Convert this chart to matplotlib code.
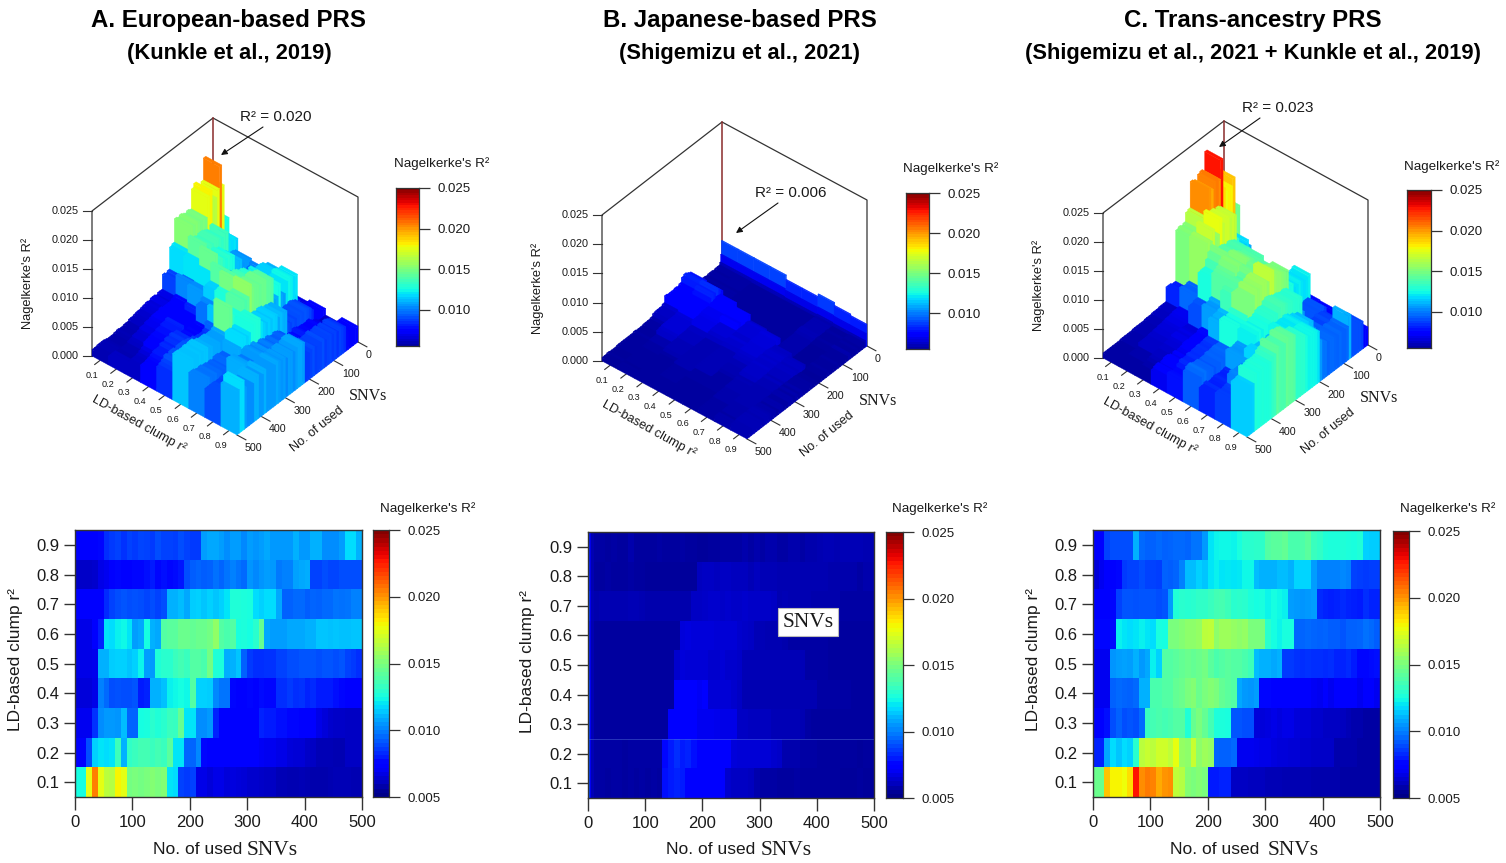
#!/usr/bin/env python3

import matplotlib

matplotlib.use("Agg")
import matplotlib.pyplot as plt
import numpy as np
from matplotlib.collections import PolyCollection
from matplotlib.colors import Normalize

plt.rcParams["font.family"] = ["Liberation Sans", "DejaVu Sans"]

WIDTH, HEIGHT = 1506, 863

# Values are R2 x 1000 in 10 SNV bins.
snv_edges = list(range(0, 501, 10))
# The Japanese PRS has a very thin bright strip at the start, so it gets finer bins there.
snv_edges_b = [0, 3, 6] + list(range(10, 501, 10))
r2_levels = [0.1, 0.2, 0.3, 0.4, 0.5, 0.6, 0.7, 0.8, 0.9]
snv_ticks = [0, 100, 200, 300, 400, 500]
height_ticks = [0.000, 0.005, 0.010, 0.015, 0.020, 0.025]
bar_ticks = [0.010, 0.015, 0.020, 0.025]
heat_bar_ticks = [0.005, 0.010, 0.015, 0.020, 0.025]

a_r01 = [12.5,12.5,17.5,20.5,17.5, 16.5,16.4,18,17.5,14.8, 15,14.8,15,15.2,15, 15.2,12,11.8,8.8,8.6, 8.8,6.8,6.8,6.6,6.8, 6.8,6.6,6.7,6.6,6.5, 6.4,6.4,6.3,6.2,6.2, 6,6,5.9,5.9,6, 5.9,5.8,5.8,5.8,5.9, 6,6,6,5.9,5.9]
a_r02 = [7.2,7.2,9,11.6,12, 11.8,12,13.5,11,13.2, 13.4,13.6,13.6,13.4,13.6, 13.4,14.2,12,12,9.5, 9.5,10.2,7.6,7.4,7.2, 7.2,7.2,7.2,7.4,7.2, 7.2,7.2,7.1,7,7, 6.8,6.8,6.6,6.5,6.5, 6.3,6.2,6,6,6, 5.9,5.9,6.2,6.2,6.2]
a_r03 = [7,7,7,8.5,10.3, 10.5,10.5,10.4,11.2,9.5, 9.5,12.5,12.6,13,12.8, 13,13.4,13.3,14.5,12, 12,10.3,10.3,10.5,8.2, 7.4,7.4,7.3,7.4,7.4, 7.4,7.4,8.2,8,8, 7.8,7.8,7.6,7.6,7.5, 7.4,7.3,6.8,6.6,6.4, 6.3,6.3,6.2,6.2,6.2]
a_r04 = [6.6,6.6,6.6,6.8,10, 9.6,9,9.1,9,9, 9.2,8,8.2,11,11, 11.3,12.2,12.4,12.5,12.4, 14,11.6,11.6,11.5,10.2, 9.8,9.8,7.6,7.5,7.5, 7.6,7.5,7.7,7.6,7.6, 8.4,8.4,8.6,8.4,8.5, 8.2,8.3,8,8,8, 7.8,7.6,7.5,7.4,7.4]
a_r05 = [6.8,6.8,6.8,6.9,11, 11,11.5,11.6,11.6,11.4, 11.6,12.3,10.6,10.5,12.8, 13,13,13.4,13.6,13.4, 14,14,13.8,14.8,12.8, 12.7,10.9,11,11.4,9.4, 8.6,8.4,8.4,8.5,8.5, 8.8,8.8,9,9,9.2, 9.2,9.2,9,9.2,9.2, 9,9.2,8.8,8.6,8.4]
a_r06 = [6.8,6.8,6.8,7.2,8.2, 12,11.8,12.2,12.4,12, 10.6,10.8,12.5,11,10.8, 14,14.2,14.2,14.6,14.6, 14.4,14.6,14.6,14.8,15.5, 14,13.8,14,12.6,12.7, 12.5,13,14.5,10.8,10.6, 10.6,10.6,10.8,10.8,10.8, 11,11,11.4,11.4,11.3, 11.4,11.3,11.3,11.4,11.4]
a_r07 = [7.2,7.2,7.2,7.3,7.5, 8.3,8.8,9,9.2,9, 9.1,9,8.9,9,8.8, 9,11,11,11.2,10.8, 11.5,11.6,11.4,11.6,11.4, 11.6,12,12.8,12.8,12.7, 12.6,11.8,11.6,11.8,11.8, 10.8,9.4,9.4,9.6,9.6, 9.3,9.5,9.4,9.6,9.6, 9.8,9.7,9.8,10,10]
a_r08 = [6.3,6.3,6.3,6.4,6.8, 7,7.2,7.6,7.5,7.5, 7.6,7.6,7.8,8,7.6, 7.8,7.6,7.7,7.9,9, 9.3,9.5,9.3,9.4,9.7, 9.5,9.8,10,9.8,9.6, 10.4,10.2,10.4,10.6,10.5, 9.9,10,10,10.7,10.8, 10.9,8.8,8.8,9,8.9, 8.9,9,9,9,9]
a_r09 = [7.2,7.2,7.2,7.2,7.6, 8.4,8.6,8.8,8.5,8.8, 8.6,8.9,8.8,8.6,9, 8.8,8.8,8.7,9,8.8, 8.6,8.6,10.6,10.8,10.8, 10.6,10.3,10.6,10.6,10.2, 10.6,10.4,10.6,10.8,10.5, 10.5,10.5,10.5,11,10.5, 10.5,11,11,10.3,10.3, 10.3,10.6,11.8,11.8,11]

b_r01 = [8.8,7.0,6.0, 5.7,5.7,5.6,5.7, 5.7,5.6,5.7,5.6,5.7, 5.6,5.7,5.6,7.8,8, 8.2,8,7.4,7.2,7.3, 7.2,7.2,7.2,7.3,6.4, 6.2,6.2,6.2,6.1,5.8, 5.7,5.7,5.7,5.6,5.6, 5.6,5.7,5.6,5.6,5.6, 5.6,5.6,5.6,5.6,5.5, 5.5,5.5,5.6,5.5,5.5]
b_r02 = [8.8,7.0,6.0, 5.7,5.7,5.7,5.7, 5.7,5.6,5.7,5.7,5.7, 5.7,5.7,5.7,7.6,8, 8.4,8,8.2,7.8,7.4, 7.5,7.4,7.4,7.4,7.3, 6.6,6.5,6.5,6.5,6.5, 6.5,6.5,6.4,6.3,5.8, 5.8,5.8,5.7,5.7,5.7, 5.6,5.6,5.6,5.6,5.6, 5.6,5.6,5.5,5.6,5.6]
b_r03 = [8.8,7.0,6.0, 5.6,5.6,5.6,5.6, 5.6,5.6,5.6,5.6,5.6, 5.6,5.6,5.6,5.6,7.4, 7.5,7.3,7.2,7.2,7, 7,7,6.9,6.8,6.8, 6.8,6.2,6.2,6.1,6.1, 6.1,6.1,6,6,6, 6,6,5.9,5.7,5.6, 5.6,5.6,5.6,5.6,5.6, 5.6,5.6,5.6,5.6,5.6]
b_r04 = [8.8,7.0,6.0, 5.6,5.6,5.6,5.6, 5.6,5.6,5.6,5.6,5.6, 5.6,5.6,5.6,5.6,5.6, 7.2,7.3,7.2,7.2,7.1, 7.2,6.5,6.5,6.5,6.5, 6.4,6.2,5.9,5.9,5.9, 5.9,5.9,5.9,5.9,5.9, 5.9,5.9,5.9,5.9,5.9, 5.7,5.7,5.7,5.7,5.7, 5.7,5.6,5.6,5.6,5.6]
b_r05 = [8.2,6.8,5.9, 5.6,5.6,5.6,5.6, 5.6,5.6,5.6,5.6,5.6, 5.6,5.6,5.6,5.6,5.6, 6.4,6.6,6.5,6.5,6.5, 6.5,6.4,6.4,6.5,6.4, 6.4,6.3,6,6,6, 6,6,6,6,6, 6,6,6,5.7,5.7, 5.7,5.7,5.6,5.6,5.6, 5.6,5.6,5.6,5.6,5.6]
b_r06 = [8.2,6.8,5.9, 5.6,5.6,5.6,5.6, 5.6,5.6,5.6,5.6,5.6, 5.6,5.6,5.6,5.6,5.6, 5.6,6.6,6.7,6.6,6.6, 6.6,6.6,6.5,6.5,6.5, 6.5,6.4,6.3,6.2,6, 6,5.9,5.9,5.9,5.8, 5.7,5.7,5.7,5.7,5.7, 5.7,5.7,5.6,5.6,5.6, 5.6,5.6,5.6,5.6,5.6]
b_r07 = [8.6,6.9,6.0, 5.8,5.9,5.9,5.9, 5.9,5.9,6,6,5.9, 5.8,5.8,5.8,5.8,5.8, 5.8,5.8,5.8,6.2,6.2, 6.3,6.4,6.4,6.3,6.4, 6.3,6.3,6.4,6.3,6.3, 6.3,6.3,6.2,5.9,6, 5.9,5.9,5.9,5.9,5.8, 5.8,5.8,5.8,5.8,5.7, 5.7,5.7,5.7,5.7,5.7]
b_r08 = [8.2,6.8,5.9, 5.6,5.6,5.7,5.6, 5.6,5.6,5.7,5.6,5.6, 5.5,5.5,5.5,5.5,5.5, 5.5,5.5,5.5,5.5,6.1, 6.2,6.2,6.1,6.2,6.2, 6.1,6.1,6.1,6,6.1, 6,6,6,5.9,5.9, 5.9,5.9,5.9,5.9,5.9, 5.9,5.9,5.8,5.8,5.8, 5.8,5.8,5.7,5.8,5.8]
b_r09 = [8.0,6.8,5.9, 5.7,5.7,5.6,5.7, 5.6,5.6,5.8,5.6,5.6, 5.6,5.6,5.7,5.6,5.6, 5.6,5.7,5.6,5.6,5.5, 5.5,5.6,5.6,5.7,5.7, 5.7,5.7,5.8,5.7,5.8, 5.7,5.8,5.8,5.7,5.7, 5.8,5.8,5.7,5.8,5.8, 5.9,6,6,5.9,6, 6,6,6,5.9,5.9]

c_r01 = [14.6,14.6,19,18,18, 17.8,18.5,22.8,20.2,20.6, 20.4,19.6,20,20.2,16.6, 16.4,15.2,15,15.2,15, 8,8,8.2,8.2,6.2, 6.2,6.2,6.1,6.1,6.1, 6,6,6,5.9,5.9, 5.9,5.9,5.9,5.8,5.8, 5.8,5.8,5.8,5.7,5.7, 5.7,5.7,5.7,5.7,5.7]
c_r02 = [8.2,8.2,10.8,11.8,11.4, 11.8,11.6,13,16.5,16.8, 16.5,17,17,16.6,17.6, 15.6,15.4,16.8,15.4,15.8, 15.6,9.5,9.4,9.4,9.6, 7,7,7,6.9,6.8, 6.8,6.7,6.6,6.6,6.5, 6.5,6.4,6.4,6.3,6.3, 6.3,6.3,5.8,5.8,5.8, 5.8,5.7,5.7,5.7,5.7]
c_r03 = [7.4,7.5,7.8,9,9.4, 9,9.2,9,9.6,13.4, 13.6,13.8,13.6,13.8,14, 14,12.8,14.5,15,14.4, 13.6,12.7,12.7,12.6,9.2, 9.2,9,9,6.6,6.6, 6.7,6.8,6.7,6.8,6.8, 6.6,6.5,6.5,6.4,6.4, 6.2,6.2,6.2,6.1,6, 5.8,5.8,5.7,5.7,5.7]
c_r04 = [7,7,7,9.4,9.6, 9.5,9.4,9.6,11,11, 13.8,13.8,14,14,14.4, 14.6,15,15.2,14.6,15, 15.2,15,14.4,14.2,14, 10.8,10.5,10.4,10.6,7.6, 7.6,7.4,7.4,7.4,7.3, 7.4,7.4,7.2,7.1,7, 7.2,7,7.2,7.4,7.4, 7.2,7,7.3,7.2,7]
c_r05 = [7,7,7,10.4,10.6, 10.7,10.6,11,10.5,10.8, 12.2,11.6,14,14,14.2, 14.4,14.6,14.4,14.6,14.8, 14.2,13.8,14,14.2,14, 14,13.8,13.5,11.2,11, 11,10.8,11,8.6,8.6, 8.5,8.4,8.5,8.4,8.4, 8.3,8.4,8.2,8.2,8.3, 8,7.6,7.6,7.7,7.8]
c_r06 = [7.6,7.6,7.6,7.7,12.2, 12,11.8,12,12.2,12, 11.8,12.6,12.5,15,15, 15.2,15.4,15.4,15.6,16.5, 16.6,15.4,15.8,15.8,15.6, 15.4,15.6,15,15,15, 13,12.5,12.3,12.6,12.6, 9.5,9.5,9.6,9.5,9.4, 9.5,9.3,9.3,9.2,9.4, 9.4,9.5,9.7,9.6,9.3]
c_r07 = [7.5,7.5,7.5,7.6,8.8, 9.2,9.2,9.1,9.2,9.2, 9.2,9,9.2,10.5,12.8, 13,12.9,13,13.2,13.2, 13.4,13.6,13.7,13.5,13, 13.1,13,12.7,12.5,12.6, 12.3,12.5,12.4,12.2,10.6, 10.5,10.4,10.5,10.6,8.3, 8.2,8.1,8.2,8.3,8.2, 8.1,8,8.4,8.2,8.2]
c_r08 = [6.6,7,7.2,7.4,7.6, 8.6,8.8,8.8,9,8.8, 8.8,8.7,9.4,9.3,9.5, 10,11.2,11.2,11.6,11.4, 12,12.2,12,12.1,12, 12.1,12.4,12.4,11.2,11, 11,11,11.2,11.2,11, 11.7,11.7,11.7,10.6,10, 10,10,10,10.2,10, 8.8,8.7,8.6,8.7,8.7]
c_r09 = [7.5,7.5,8.8,9,9, 9,9,11,9.6,9.4, 9.4,9.6,9.4,9.5,9.6, 9.6,9.5,9.8,9.8,10.5, 12,12.3,12.4,12.4,12.3, 12.6,13,13,13.1,13.1, 14,14.2,14.2,14.4,13.8, 13.8,13.9,14.2,13.4,13.2, 12.8,12.7,12.7,12.8,12.7, 12.6,12.8,11.6,11.5,11.5]

a_rows = [a_r01, a_r02, a_r03, a_r04, a_r05, a_r06, a_r07, a_r08, a_r09]
b_rows = [b_r01, b_r02, b_r03, b_r04, b_r05, b_r06, b_r07, b_r08, b_r09]
c_rows = [c_r01, c_r02, c_r03, c_r04, c_r05, c_r06, c_r07, c_r08, c_r09]

TEXT = "#1a1a1a"
LINE = "#333333"
SERIF = "Liberation Serif"
NORM = Normalize(0.005, 0.025)
CMAP = plt.get_cmap("jet")


def px_axes(fig, x0, y0, x1, y1):
    return fig.add_axes([x0 / WIDTH, 1 - y1 / HEIGHT, (x1 - x0) / WIDTH, (y1 - y0) / HEIGHT])


def draw_colorbar(fig, box, low, ticks, tick_len, label_size):
    ax = px_axes(fig, *box)
    levels = np.linspace(low, 0.025, 65)
    ax.pcolormesh([0, 1], levels, ((levels[:-1] + levels[1:]) / 2)[:, None], cmap=CMAP, norm=NORM)
    ax.set_ylim(low, 0.025)
    ax.set_xticks([])
    ax.yaxis.tick_right()
    ax.set_yticks(ticks, [f"{t:.3f}" for t in ticks])
    ax.tick_params(axis="y", length=tick_len, width=0.9, color=LINE, labelsize=label_size,
                   labelcolor=TEXT, pad=5)
    for spine in ax.spines.values():
        spine.set_color(LINE)
        spine.set_linewidth(0.9)


def draw_heatmap(fig, canvas, values, edges, box, bar_box, bar_title_xy, label_x, name_xs):
    ax = px_axes(fig, *box)
    r2_edges = np.array([0.05, 0.15, 0.25, 0.35, 0.45, 0.55, 0.65, 0.75, 0.85, 0.95])
    ax.pcolormesh(edges, r2_edges, values, cmap=CMAP, norm=NORM)
    ax.set_xlim(0, 500)
    ax.set_ylim(0.05, 0.95)
    ax.set_xticks(snv_ticks)
    ax.set_yticks(r2_levels, [f"{v:.1f}" for v in r2_levels])
    ax.tick_params(axis="x", length=9, width=1.0, color=LINE, labelsize=12, labelcolor=TEXT, pad=4)
    ax.tick_params(axis="y", length=8, width=1.0, color=LINE, labelsize=12, labelcolor=TEXT, pad=3)
    for spine in ax.spines.values():
        spine.set_color(LINE)
        spine.set_linewidth(1.0)

    draw_colorbar(fig, bar_box, 0.005, heat_bar_ticks, 8, 9.5)
    canvas.text(*bar_title_xy, "Nagelkerke's R²", fontsize=9.6, color=TEXT, ha="center", va="center")
    canvas.text(label_x, (box[1] + box[3]) / 2 - 4, "LD-based clump r²", fontsize=12.5,
                color=TEXT, rotation=90, ha="center", va="center")
    canvas.text(name_xs[0], 849, "No. of used", fontsize=12.5, color=TEXT, ha="left", va="center")
    canvas.text(name_xs[1], 850, "SNVs", fontsize=15.5, family=SERIF, color=TEXT,
                ha="left", va="center")
    return ax


def draw_surface(canvas, values, edges, left, right, bottom, z_px):
    left, right, bottom = np.array(left, float), np.array(right, float), np.array(bottom, float)
    back = left + right - bottom

    def project(r2, snv, value=0.005):
        frac_r2 = (r2 - 0.05) / 0.9
        frac_snv = snv / 500
        point = back + frac_r2 * (right - back) + frac_snv * (left - back)
        point[1] -= (value - 0.005) / 0.02 * z_px
        return point

    # frame sits behind the surface
    top = [project(0.05, 500, 0.025), project(0.05, 0, 0.025), project(0.95, 0, 0.025)]
    canvas.plot(*zip(left, top[0], top[1], top[2], right), color=LINE, lw=0.9, zorder=2)
    canvas.plot(*zip(back, top[1]), color="#8a2b2b", lw=1.1, zorder=2)

    # painter's order: back corner (low r2, low SNV) first
    polys, colors = [], []
    for i in range(values.shape[0]):
        r_lo, r_hi = 0.05 + i * 0.1, 0.15 + i * 0.1
        for j in range(values.shape[1]):
            s_lo, s_hi = edges[j], edges[j + 1]
            v = values[i, j]
            color = CMAP(NORM(v))
            polys.append([project(r_lo, s_lo, v), project(r_hi, s_lo, v), project(r_hi, s_hi, v),
                          project(r_lo, s_hi, v)])
            colors.append(color)
            polys.append([project(r_hi, s_lo, v), project(r_hi, s_hi, v), project(r_hi, s_hi),
                          project(r_hi, s_lo)])
            colors.append(color)
            polys.append([project(r_lo, s_hi, v), project(r_hi, s_hi, v), project(r_hi, s_hi),
                          project(r_lo, s_hi)])
            colors.append(color)
    canvas.add_collection(PolyCollection(polys, facecolors=colors, edgecolors=colors,
                                         linewidths=0.25, zorder=3))

    # height ticks: the labelled scale starts at zero on the floor of the box
    for k, tick in enumerate(height_ticks):
        y = left[1] - z_px * k / (len(height_ticks) - 1)
        canvas.plot([left[0] - 9, left[0]], [y, y], color=LINE, lw=0.8, zorder=2)
        canvas.text(left[0] - 13, y, f"{tick:.3f}", fontsize=7.8, color=TEXT, ha="right", va="center")
    canvas.text(left[0] - 64, left[1] - 73, "Nagelkerke's R²", fontsize=9.3, color=TEXT,
                rotation=90, ha="center", va="center")

    snv_dir = (left - back) / 500
    r2_dir = (right - back) / 0.9
    for r2 in r2_levels:
        start = project(r2, 500)
        end = start + snv_dir * 22
        canvas.plot(*zip(start, end), color=LINE, lw=0.8, zorder=2)
        canvas.text(start[0] - 8, start[1] + 15, f"{r2:.1f}", fontsize=6.6, color=TEXT,
                    ha="center", va="center")
    for snv in snv_ticks:
        start = project(0.95, snv)
        end = start + r2_dir * 0.055
        canvas.plot(*zip(start, end), color=LINE, lw=0.8, zorder=2)
        canvas.text(start[0] + 8, start[1] + 13, str(snv), fontsize=7.7, color=TEXT,
                    ha="left", va="center")

    canvas.text(left[0] + 47, left[1] + 68, "LD-based clump r²", fontsize=9.2, color=TEXT,
                rotation=-29, ha="center", va="center", rotation_mode="anchor")
    canvas.text(left[0] + 225, left[1] + 73, "No. of used", fontsize=9.1, color=TEXT,
                rotation=39, ha="center", va="center", rotation_mode="anchor")
    canvas.text(left[0] + 276, left[1] + 40, "SNVs", fontsize=11.5, family=SERIF, color=TEXT,
                ha="center", va="center")


def draw_callout(canvas, label, text_xy, tail, head):
    canvas.text(*text_xy, label, fontsize=11, color=TEXT, ha="center", va="center", zorder=6)
    canvas.annotate("", xy=head, xytext=tail, zorder=6,
                    arrowprops=dict(arrowstyle="-|>", color="#111111", lw=0.8, mutation_scale=9,
                                    shrinkA=0, shrinkB=0))


def main() -> int:
    fig = plt.figure(figsize=(WIDTH / 100, HEIGHT / 100), dpi=100)

    canvas = fig.add_axes([0, 0, 1, 1], zorder=5)
    canvas.set_xlim(0, WIDTH)
    canvas.set_ylim(HEIGHT, 0)
    canvas.axis("off")

    a_values = np.array(a_rows) / 1000
    b_values = np.array(b_rows) / 1000
    c_values = np.array(c_rows) / 1000

    titles = [
        (229, "A. European-based PRS", "(Kunkle et al., 2019)"),
        (740, "B. Japanese-based PRS", "(Shigemizu et al., 2021)"),
        (1253, "C. Trans-ancestry PRS", "(Shigemizu et al., 2021 + Kunkle et al., 2019)"),
    ]
    for x, first, second in titles:
        canvas.text(x, 21, first, fontsize=17.3, weight="bold", color="black", ha="center", va="center")
        canvas.text(x, 53, second, fontsize=15.75, weight="bold", color="black", ha="center", va="center")

    draw_surface(canvas, a_values, snv_edges, (92, 356), (358, 342), (237, 435), 145)
    draw_surface(canvas, b_values, snv_edges_b, (602, 361), (867, 346), (747, 439), 146)
    draw_surface(canvas, c_values, snv_edges, (1103, 358), (1368, 345), (1247, 437), 145)

    draw_callout(canvas, "R² = 0.020", (276, 117), (263, 127), (221, 155))
    draw_callout(canvas, "R² = 0.006", (791, 193), (778, 203), (736, 233))
    draw_callout(canvas, "R² = 0.023", (1278, 108), (1260, 118), (1219, 147))

    for box, title_xy in [
        ((396, 188, 419, 346), (442, 164)),
        ((906, 193, 929, 349), (951, 169)),
        ((1407, 190, 1431, 348), (1452, 167)),
    ]:
        draw_colorbar(fig, box, 0.0055, bar_ticks, 8, 9.5)
        canvas.text(*title_xy, "Nagelkerke's R²", fontsize=9.6, color=TEXT, ha="center", va="center")

    draw_heatmap(fig, canvas, a_values, snv_edges, (75, 530, 362, 797), (373, 530, 389, 797),
                 (428, 509), 16, (153, 247))
    ax_b = draw_heatmap(fig, canvas, b_values, snv_edges_b, (588, 532, 874, 798), (886, 532, 903, 798),
                        (940, 509), 528, (666, 761))
    draw_heatmap(fig, canvas, c_values, snv_edges, (1093, 530, 1380, 797), (1393, 531, 1409, 798),
                 (1448, 509), 1034, (1170, 1268))

    # faint seam across panel B
    ax_b.axhline(0.25, color="#5a78d8", lw=0.6, alpha=0.5)

    canvas.text(808, 622, "SNVs", fontsize=15.5, family=SERIF, color=TEXT, ha="center", va="center",
                bbox=dict(boxstyle="square,pad=0.22", facecolor="white", edgecolor="#bbbbbb", linewidth=0.8))

    fig.savefig("out.png", dpi=100)
    plt.close(fig)
    return 0


if __name__ == "__main__":
    raise SystemExit(main())
